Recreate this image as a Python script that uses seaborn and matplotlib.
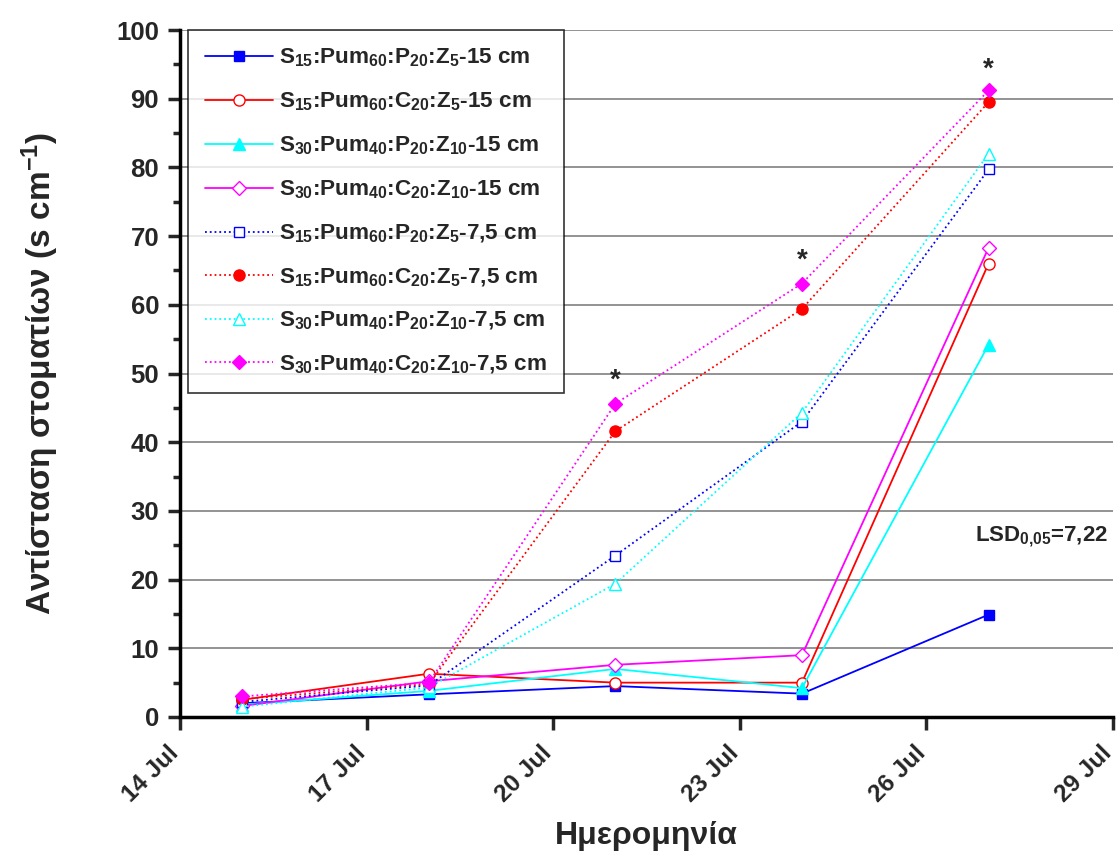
import matplotlib
matplotlib.use("Agg")
import matplotlib.pyplot as plt
import seaborn as sns
import pandas as pd
import numpy as np

sns.set_theme(style="white")
plt.rcParams['font.family'] = ['Liberation Sans', 'DejaVu Sans']
plt.rcParams['font.weight'] = 'bold'
plt.rcParams['mathtext.fontset'] = 'custom'
plt.rcParams['mathtext.rm'] = 'Liberation Sans:bold'
plt.rcParams['mathtext.bf'] = 'Liberation Sans:bold'
plt.rcParams['mathtext.it'] = 'Liberation Sans:bold'
plt.rcParams['mathtext.default'] = 'bf'

# Data (days of July)
days = [15, 18, 21, 24, 27]
s1 = [2.0, 3.3, 4.5, 3.4, 14.9]     # S15:Pum60:P20:Z5-15 cm
s2 = [2.5, 6.3, 5.0, 5.0, 66.0]     # S15:Pum60:C20:Z5-15 cm
s3 = [1.8, 3.8, 7.0, 4.2, 54.2]     # S30:Pum40:P20:Z10-15 cm
s4 = [1.6, 5.2, 7.6, 9.0, 68.3]     # S30:Pum40:C20:Z10-15 cm
s5 = [2.2, 4.6, 23.5, 43.0, 79.7]   # S15:Pum60:P20:Z5-7,5 cm
s6 = [2.6, 4.8, 41.6, 59.4, 89.5]   # S15:Pum60:C20:Z5-7,5 cm
s7 = [1.5, 4.3, 19.4, 44.3, 82.0]   # S30:Pum40:P20:Z10-7,5 cm
s8 = [3.0, 5.0, 45.6, 63.1, 91.2]   # S30:Pum40:C20:Z10-7,5 cm
labels = [
    r'$S_{15}$:Pum$_{60}$:P$_{20}$:Z$_{5}$-15 cm',
    r'$S_{15}$:Pum$_{60}$:C$_{20}$:Z$_{5}$-15 cm',
    r'$S_{30}$:Pum$_{40}$:P$_{20}$:Z$_{10}$-15 cm',
    r'$S_{30}$:Pum$_{40}$:C$_{20}$:Z$_{10}$-15 cm',
    r'$S_{15}$:Pum$_{60}$:P$_{20}$:Z$_{5}$-7,5 cm',
    r'$S_{15}$:Pum$_{60}$:C$_{20}$:Z$_{5}$-7,5 cm',
    r'$S_{30}$:Pum$_{40}$:P$_{20}$:Z$_{10}$-7,5 cm',
    r'$S_{30}$:Pum$_{40}$:C$_{20}$:Z$_{10}$-7,5 cm',
]
star_days = [21, 24, 27]
star_vals = [49.0, 66.5, 94.2]
xticks = [14, 17, 20, 23, 26, 29]
xticklabels = ['14 Jul', '17 Jul', '20 Jul', '23 Jul', '26 Jul', '29 Jul']

series = [s1, s2, s3, s4, s5, s6, s7, s8]
colors = ['#0000ff', '#ff0000', '#00ffff', '#ff00ff'] * 2
markers = ['s', 'o', '^', 'D', 's', 'o', '^', 'D']
filled = [True, False, True, False, False, True, False, True]
styles = ['-'] * 4 + [':'] * 4
msizes = [7, 8, 8, 7, 7, 8, 8, 7]

fig = plt.figure(figsize=(11.17, 8.65), dpi=100)
ax = fig.add_axes([0.1611, 0.1711, 0.8353, 0.7942])

for y in range(10, 101, 10):
    ax.axhline(y, color='#808080', lw=1.2, zorder=0)

for vals, c, m, f, ls, ms, lab in zip(series, colors, markers, filled, styles, msizes, labels):
    df = pd.DataFrame({'day': days, 'val': vals})
    sns.lineplot(data=df, x='day', y='val', ax=ax, color=c, marker=m,
                 linestyle=ls, linewidth=1.3, markersize=ms,
                 markerfacecolor=(c if f else 'white'), markeredgecolor=c,
                 markeredgewidth=1.0, label=lab, zorder=3)

for d, v in zip(star_days, star_vals):
    ax.text(d, v, '*', ha='center', va='center', fontsize=20, fontweight='bold')

fig.text(1108 / 1117, 1 - 541 / 865, r'LSD$_{0{,}05}$=7,22', ha='right', va='baseline',
         fontsize=16, fontweight='bold')

ax.set_xlim(14, 29)
ax.set_ylim(0, 100)
ax.set_xticks(xticks)
ax.set_xticklabels(xticklabels, rotation=45, ha='right', va='baseline', rotation_mode='anchor',
                   fontsize=17.5, fontweight='bold')
ax.set_yticks(range(0, 101, 10))
ax.set_yticks(range(5, 100, 10), minor=True)
ax.set_yticklabels([str(v) for v in range(0, 101, 10)], fontsize=18.5, fontweight='bold')
ax.tick_params(axis='both', which='major', direction='out', length=9, width=2.5, pad=6,
               left=True, bottom=True)
ax.tick_params(axis='y', which='minor', direction='out', length=5, width=2.5, left=True)
ax.tick_params(axis='x', which='major', pad=18)

for s in ['top', 'right']:
    ax.spines[s].set_visible(False)
for s in ['left', 'bottom']:
    ax.spines[s].set_linewidth(2.5)
    ax.spines[s].set_color('black')

ax.set_xlabel('Ημερομηνία', fontsize=23, fontweight='bold', labelpad=10)
ax.set_ylabel('Αντίσταση στοματίων (s cm$^{-1}$)', fontsize=24, fontweight='bold', labelpad=40)

leg = ax.legend(loc='upper left', bbox_to_anchor=(0.009, 1.0), fontsize=16.2, frameon=True,
                fancybox=False, edgecolor='black', borderpad=0.75, labelspacing=0.95,
                handlelength=3.0, handletextpad=0.3, borderaxespad=0.0)
leg.get_frame().set_linewidth(1.2)

fig.savefig('out.png', dpi=100)
